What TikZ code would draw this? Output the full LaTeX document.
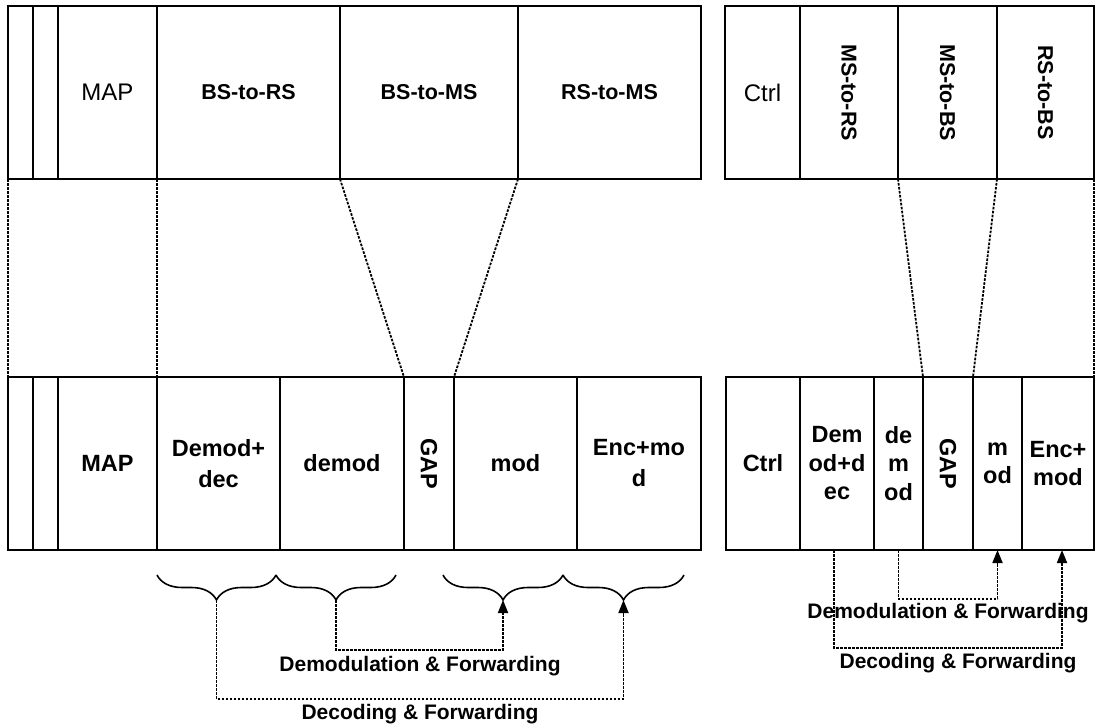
\documentclass[tikz,border=0pt]{standalone}
\usepackage{fontspec}
\setmainfont{Liberation Sans}
\usetikzlibrary{arrows.meta,decorations.pathreplacing,calc}
\newcommand\mkcell[7][]{%
  \node[cell,#1,minimum width={(#4-#3)*1pt},minimum height={(#6-#5)*1pt}] (#2) at ({(#3+#4)/2},{(#5+#6)/2}) {#7};}
\begin{document}
\begin{tikzpicture}[x=1pt,y=-1pt,
  cell/.style={draw=black,line width=1.8pt,inner sep=0pt,outer sep=0pt,align=center,
    font=\bfseries\fontsize{23.5}{31}\selectfont},
  toplab/.style={font=\bfseries\fontsize{21.5}{25}\selectfont},
  plainlab/.style={font=\mdseries\fontsize{24}{27}\selectfont},
  rcell/.style={font=\bfseries\fontsize{23.5}{28.5}\selectfont},
  rot/.style={rotate=-90,inner sep=0pt},
  dotline/.style={line width=1.8pt,dash pattern=on 2.6pt off 1.4pt},
  conn/.style={line width=1.8pt,dash pattern=on 2.6pt off 1.4pt,-{Triangle[length=13pt,width=10pt]}},
  bracestyle/.style={line width=1.6pt,decorate,decoration={brace,mirror,amplitude=25pt}},
  lab/.style={font=\bfseries\fontsize{21}{24}\selectfont,anchor=base,inner sep=0pt}]
\useasboundingbox (0,0) rectangle (1095,726);
% ---- top row, left block
\mkcell{tA}{8}{33}{6}{179}{}
\mkcell{tB}{33}{58}{6}{179}{}
\mkcell[plainlab]{tmap}{58}{157}{6}{179}{MAP}
\mkcell[toplab]{bsrs}{157}{340}{6}{179}{BS-to-RS}
\mkcell[toplab]{bsms}{340}{518}{6}{179}{BS-to-MS}
\mkcell[toplab]{rsms}{518}{701}{6}{179}{RS-to-MS}
% ---- top row, right block
\mkcell[plainlab]{tctrl}{725}{800}{6}{179}{Ctrl}
\mkcell{msrs}{800}{898}{6}{179}{}
\mkcell{msbs}{898}{997}{6}{179}{}
\mkcell{rsbs}{997}{1094}{6}{179}{}
\node[rot,toplab] (msrsT) at (msrs) {MS-to-RS};
\node[rot,toplab] (msbsT) at (msbs) {MS-to-BS};
\node[rot,toplab] (rsbsT) at (rsbs) {RS-to-BS};
% ---- bottom row, left block
\mkcell{bA}{8}{33}{377}{550}{}
\mkcell{bB}{33}{58}{377}{550}{}
\mkcell{bmap}{58}{157}{377}{550}{MAP}
\mkcell{demdec}{157}{280}{377}{550}{Demod+\\dec}
\mkcell{demod}{280}{404}{377}{550}{demod}
\mkcell{gapL}{404}{454}{377}{550}{}
\mkcell{mod}{454}{577}{377}{550}{mod}
\mkcell{encmod}{577}{701}{377}{550}{Enc+mo\\d}
\node[rot,font=\bfseries\fontsize{23.5}{26}\selectfont] (gapLT) at (gapL) {GAP};
% ---- bottom row, right block
\mkcell{bctrl}{726}{800}{377}{550}{Ctrl}
\mkcell[rcell]{demdecR}{800}{874}{377}{550}{Dem\\od+d\\ec}
\mkcell[rcell]{demodR}{874}{923}{377}{550}{de\\m\\od}
\mkcell{gapR}{923}{973}{377}{550}{}
\mkcell[rcell]{modR}{973}{1022}{377}{550}{m\\od}
\mkcell[rcell]{encR}{1022}{1094}{377}{550}{Enc+\\mod}
\node[rot,font=\bfseries\fontsize{23.5}{26}\selectfont] (gapRT) at (gapR) {GAP};
% ---- dotted mapping lines
\draw[dotline] (tA.south west) -- (bA.north west);
\draw[dotline] (bsrs.south west) -- (demdec.north west);
\draw[dotline] (bsms.south west) -- (gapL.north west);
\draw[dotline] (rsms.south west) -- (gapL.north east);
\draw[dotline] (msbs.south west) -- (gapR.north west);
\draw[dotline] (rsbs.south west) -- (gapR.north east);
\draw[dotline] (rsbs.south east) -- (encR.north east);
% ---- braces
\draw[bracestyle] (157,575) -- (276,575);
\draw[bracestyle] (276,575) -- (396,575);
\draw[bracestyle] (443,575) -- (563,575);
\draw[bracestyle] (563,575) -- (684,575);
\coordinate (tip1) at (216.5,600);
\coordinate (tip2) at (336,600);
\coordinate (tip3) at (503,600);
\coordinate (tip4) at (623.5,600);
% ---- left connectors
\draw[conn] (tip2) -- ++(0,50) -| (tip3);
\draw[conn] (tip1) -- ++(0,99) -| (tip4);
\node[lab] (labL1) at (420,671) {Demodulation \& Forwarding};
\node[lab] (labL2) at (420,719) {Decoding \& Forwarding};
% ---- right connectors
\draw[conn] ([xshift=-3pt]demdecR.south) -- ++(0,98) -| ([xshift=4pt]encR.south);
\draw[conn] (demodR.south) -- ++(0,49) -| (modR.south);
\node[lab] (labR1) at (948,618) {Demodulation \& Forwarding};
\node[lab] (labR2) at (958,668) {Decoding \& Forwarding};
\end{tikzpicture}
\end{document}
